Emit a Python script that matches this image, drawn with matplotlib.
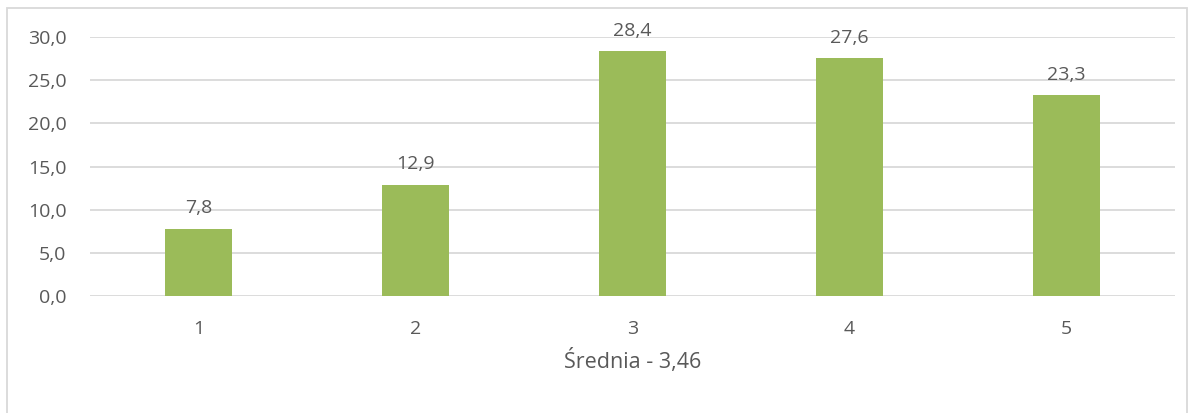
import matplotlib.pyplot as plt
from matplotlib.patches import Rectangle

# ratings and share (%)
categories = ["1", "2", "3", "4", "5"]
values = [7.8, 12.9, 28.4, 27.6, 23.3]
value_labels = ["7,8", "12,9", "28,4", "27,6", "23,3"]
yticks = [0, 5, 10, 15, 20, 25, 30]
ytick_labels = ["0,0", "5,0", "10,0", "15,0", "20,0", "25,0", "30,0"]

plt.rcParams['font.family'] = ['Open Sans', 'DejaVu Sans']
text_color = "#595959"

fig = plt.figure(figsize=(11.9, 4.13), dpi=100)
ax = fig.add_axes([0.0756, 0.2833, 0.9118, 0.6271])

x = range(len(categories))
ax.bar(x, values, width=0.31, color="#9BBB59", zorder=3)
for i, v in enumerate(values):
    ax.text(i, v + 1.3, value_labels[i], ha="center", va="bottom",
            fontsize=14, color=text_color, clip_on=False)

ax.set_xlim(-0.5, len(categories) - 0.5)
ax.set_ylim(0, 30)
ax.set_yticks(yticks)
ax.set_yticklabels(ytick_labels)
ax.set_xticks(list(x))
ax.set_xticklabels(categories)
ax.tick_params(axis="both", length=0, labelsize=14, colors=text_color)
ax.tick_params(axis="y", pad=17)
ax.tick_params(axis="x", pad=17)
ax.grid(axis="y", color="#D9D9D9", linewidth=1.3, zorder=0)
for s in ax.spines.values():
    s.set_visible(False)
ax.set_xlabel("Średnia - 3,46", fontsize=15.5, color=text_color, labelpad=8)

# chart border
fig.patches.append(Rectangle((7 / 1190, -0.1), 1180 / 1190, 1.1 - 8 / 413,
                             transform=fig.transFigure, fill=False,
                             edgecolor="#D9D9D9", linewidth=1.3))

fig.savefig("out.png", dpi=100)
